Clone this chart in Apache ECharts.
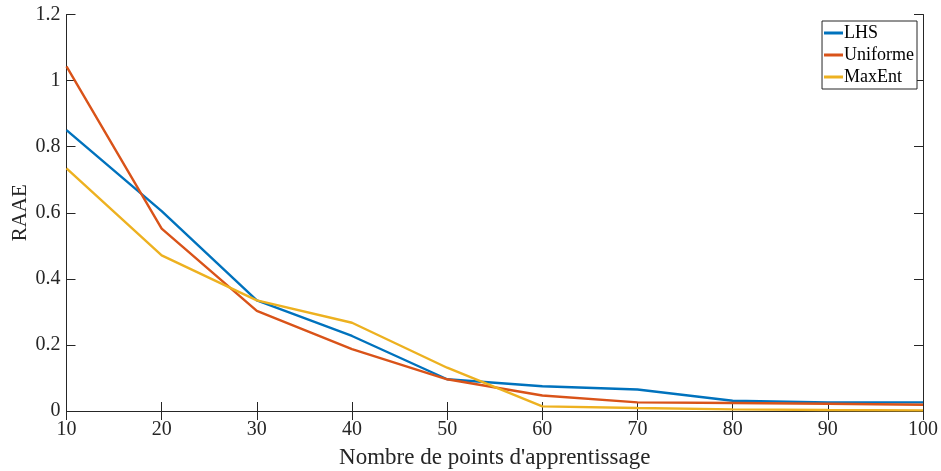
<!DOCTYPE html>
<html>
<head>
<meta charset="utf-8">
<script src="https://cdn.jsdelivr.net/npm/echarts@6/dist/echarts.min.js"></script>
<style>
  html, body { margin: 0; padding: 0; background: #fff; }
  #chart { width: 941px; height: 471px; }
</style>
</head>
<body>
<div id="chart"></div>
<script>
// values
const points = [10, 20, 30, 40, 50, 60, 70, 80, 90, 100];
const lhs = [0.850, 0.605, 0.335, 0.227, 0.096, 0.075, 0.065, 0.031, 0.026, 0.026];
const uniforme = [1.043, 0.552, 0.303, 0.187, 0.096, 0.047, 0.026, 0.024, 0.022, 0.019];
const maxEnt = [0.734, 0.471, 0.335, 0.267, 0.131, 0.014, 0.009, 0.005, 0.003, 0.002];
const seriesNames = ['LHS', 'Uniforme', 'MaxEnt'];

const ele = document.getElementById('chart');
let lineChart = echarts.init(ele);
let colors = ['#0072BD', '#D95319', '#EDB120'];
const axisColor = '#262626';
const font = '"Liberation Serif", "DejaVu Serif", serif';

const pairs = arr => points.map((x, i) => [x, arr[i]]);

let option = {
  color: colors,
  animation: false,
  textStyle: {fontFamily: font},
  legend: {
    data: seriesNames,
    orient: 'vertical',
    right: 24,
    top: 21,
    icon: 'rect',
    itemWidth: 19,
    itemHeight: 3,
    itemGap: 4,
    padding: [3, 3, 3, 2],
    borderColor: axisColor,
    borderWidth: 1,
    backgroundColor: '#fff',
    textStyle: {fontFamily: font, fontSize: 18, color: '#000', padding: [0, 0, 0, -4]}
  },
  grid: {
    left: 66.5,
    right: 18,
    top: 14.5,
    bottom: 60,
    containLabel: false,
    outerBoundsMode: 'none'
  },
  xAxis: [
    {
      type: 'value',
      min: 10,
      max: 100,
      interval: 10,
      name: "Nombre de points d'apprentissage",
      nameLocation: 'middle',
      nameGap: 35,
      nameTextStyle: {fontFamily: font, fontSize: 23, color: axisColor},
      axisLine: {lineStyle: {color: axisColor, width: 1}},
      axisTick: {inside: true, length: 9, lineStyle: {color: axisColor}},
      axisLabel: {fontFamily: font, fontSize: 20, color: axisColor, margin: 9},
      splitLine: {show: false}
    },
    {
      type: 'value',
      position: 'top',
      min: 10,
      max: 100,
      interval: 10,
      axisLine: {lineStyle: {color: axisColor, width: 1}},
      axisTick: {inside: true, length: 9, lineStyle: {color: axisColor}},
      axisLabel: {show: false},
      splitLine: {show: false}
    }
  ],
  yAxis: [
    {
      type: 'value',
      min: 0,
      max: 1.2,
      interval: 0.2,
      name: 'RAAE',
      nameLocation: 'middle',
      nameGap: 36,
      nameMoveOverlap: false,
      nameTextStyle: {fontFamily: font, fontSize: 21, color: axisColor},
      axisLine: {show: true, lineStyle: {color: axisColor, width: 1}},
      axisTick: {show: true, inside: true, length: 9, lineStyle: {color: axisColor}},
      axisLabel: {
        fontFamily: font, fontSize: 20, color: axisColor, margin: 6,
        formatter: v => String(+v.toFixed(1))
      },
      splitLine: {show: false}
    },
    {
      type: 'value',
      position: 'right',
      min: 0,
      max: 1.2,
      interval: 0.2,
      axisLine: {show: true, lineStyle: {color: axisColor, width: 1}},
      axisTick: {show: true, inside: true, length: 9, lineStyle: {color: axisColor}},
      axisLabel: {show: false},
      splitLine: {show: false}
    }
  ],
  series: [
    {name: 'LHS', type: 'line', showSymbol: false, symbol: 'none', lineStyle: {width: 2.4}, data: pairs(lhs)},
    {name: 'Uniforme', type: 'line', showSymbol: false, symbol: 'none', lineStyle: {width: 2.4}, data: pairs(uniforme)},
    {name: 'MaxEnt', type: 'line', showSymbol: false, symbol: 'none', lineStyle: {width: 2.4}, data: pairs(maxEnt)}
  ]
};
lineChart.setOption(option);
</script>
</body>
</html>
